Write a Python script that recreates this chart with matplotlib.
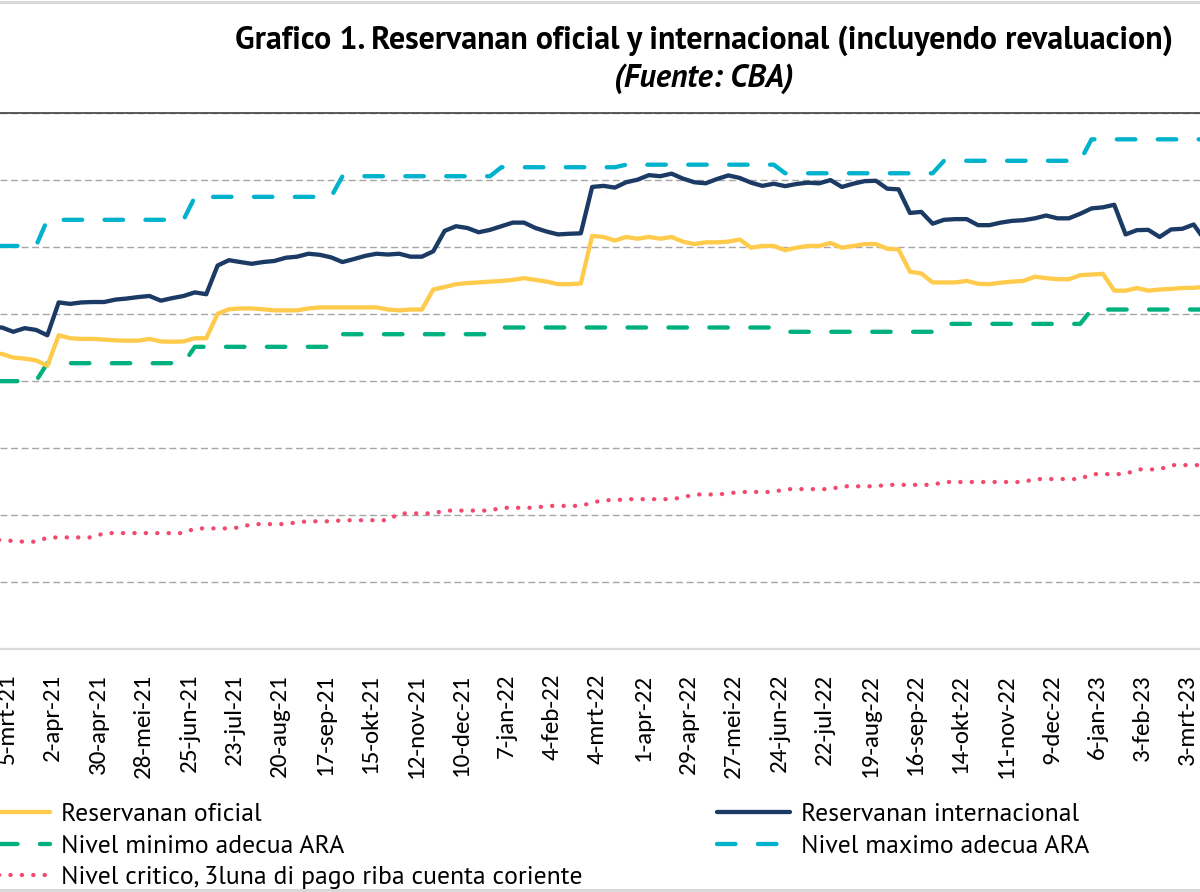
import matplotlib
matplotlib.use("Agg")
import matplotlib.pyplot as plt
import matplotlib.dates as mdates
from matplotlib.lines import Line2D
from matplotlib.transforms import ScaledTranslation
import datetime as dt

# ---------------- data (weekly, starting 19-feb-2021) ----------------
start_date = dt.date(2021, 2, 19)
n_weeks = 108

reservas_oficial = [
    2200, 2200, 2173, 2165, 2152, 2112, 2339, 2317, 2312, 2312,
    2307, 2301, 2299, 2299, 2312, 2293, 2291, 2293, 2317, 2317,
    2499, 2533, 2539, 2539, 2533, 2525, 2525, 2525, 2539, 2547,
    2547, 2547, 2547, 2547, 2547, 2531, 2525, 2531, 2531, 2680,
    2699, 2720, 2728, 2733, 2739, 2744, 2752, 2765, 2752, 2739,
    2720, 2720, 2725, 3080, 3072, 3045, 3072, 3059, 3072, 3059,
    3072, 3037, 3019, 3032, 3032, 3037, 3053, 2992, 3005, 3005,
    2973, 2992, 3005, 3005, 3027, 2992, 3005, 3019, 3019, 2984,
    2979, 2813, 2800, 2733, 2733, 2733, 2744, 2723, 2720, 2731,
    2739, 2744, 2776, 2765, 2757, 2757, 2787, 2792, 2797, 2672,
    2672, 2691, 2672, 2680, 2685, 2691, 2693, 2701,
]

reservas_internacional = [
    2397, 2397, 2365, 2392, 2379, 2339, 2584, 2573, 2584, 2587,
    2587, 2605, 2613, 2624, 2632, 2597, 2616, 2632, 2659, 2645,
    2859, 2899, 2885, 2872, 2885, 2893, 2917, 2925, 2947, 2939,
    2920, 2885, 2907, 2931, 2947, 2941, 2947, 2925, 2925, 2965,
    3117, 3152, 3139, 3107, 3125, 3152, 3179, 3179, 3139, 3112,
    3091, 3096, 3099, 3445, 3453, 3440, 3480, 3499, 3533, 3525,
    3544, 3507, 3480, 3472, 3504, 3531, 3512, 3477, 3453, 3469,
    3451, 3467, 3477, 3472, 3496, 3445, 3469, 3488, 3491, 3432,
    3427, 3251, 3259, 3171, 3200, 3205, 3205, 3160, 3160, 3179,
    3192, 3197, 3211, 3232, 3211, 3211, 3245, 3285, 3293, 3312,
    3091, 3123, 3125, 3072, 3128, 3133, 3165, 3045,
]

nivel_minimo = [
    1997, 1997, 1997, 1997, 1997, 2131, 2131, 2131, 2131, 2131,
    2131, 2131, 2131, 2131, 2131, 2131, 2131, 2131, 2253, 2253,
    2253, 2253, 2253, 2253, 2253, 2253, 2253, 2253, 2253, 2253,
    2253, 2347, 2347, 2347, 2347, 2347, 2347, 2347, 2347, 2347,
    2347, 2347, 2347, 2347, 2347, 2397, 2397, 2397, 2397, 2397,
    2397, 2397, 2397, 2397, 2397, 2397, 2397, 2397, 2397, 2397,
    2397, 2397, 2397, 2397, 2397, 2397, 2397, 2397, 2397, 2397,
    2365, 2365, 2365, 2365, 2365, 2365, 2365, 2365, 2365, 2365,
    2365, 2365, 2365, 2365, 2424, 2424, 2424, 2424, 2424, 2424,
    2424, 2424, 2424, 2424, 2424, 2424, 2424, 2531, 2531, 2531,
    2531, 2531, 2531, 2531, 2531, 2531, 2531, 2531,
]

nivel_maximo = [
    3005, 3005, 3005, 3005, 3005, 3200, 3200, 3200, 3200, 3200,
    3200, 3200, 3200, 3200, 3200, 3200, 3200, 3200, 3371, 3371,
    3371, 3371, 3371, 3371, 3371, 3371, 3371, 3371, 3371, 3371,
    3371, 3525, 3525, 3525, 3525, 3525, 3525, 3525, 3525, 3525,
    3525, 3525, 3525, 3525, 3525, 3592, 3592, 3592, 3592, 3592,
    3592, 3592, 3592, 3592, 3592, 3592, 3611, 3611, 3611, 3611,
    3611, 3611, 3611, 3611, 3611, 3611, 3611, 3611, 3611, 3611,
    3547, 3547, 3547, 3547, 3547, 3547, 3547, 3547, 3547, 3547,
    3547, 3547, 3547, 3547, 3640, 3640, 3640, 3640, 3640, 3640,
    3640, 3640, 3640, 3640, 3640, 3640, 3640, 3800, 3800, 3800,
    3800, 3800, 3800, 3800, 3800, 3800, 3800, 3800,
]

nivel_critico = [
    813, 813, 805, 800, 800, 830, 832, 832, 832, 832,
    864, 864, 864, 864, 864, 864, 864, 864, 899, 899,
    899, 899, 907, 931, 931, 931, 931, 945, 952, 952,
    952, 960, 960, 960, 960, 960, 1011, 1011, 1011, 1011,
    1032, 1032, 1032, 1032, 1032, 1053, 1053, 1053, 1053, 1067,
    1067, 1067, 1067, 1091, 1110, 1109, 1117, 1117, 1117, 1117,
    1117, 1131, 1152, 1152, 1152, 1160, 1171, 1171, 1171, 1171,
    1192, 1192, 1192, 1192, 1192, 1213, 1213, 1213, 1213, 1224,
    1224, 1224, 1224, 1224, 1245, 1245, 1245, 1245, 1245, 1245,
    1245, 1245, 1267, 1267, 1267, 1267, 1267, 1304, 1304, 1304,
    1304, 1339, 1339, 1339, 1371, 1371, 1371, 1371,
]

tick_labels = [
    "5-mrt-21", "2-apr-21", "30-apr-21", "28-mei-21", "25-jun-21", "23-jul-21",
    "20-aug-21", "17-sep-21", "15-okt-21", "12-nov-21", "10-dec-21", "7-jan-22",
    "4-feb-22", "4-mrt-22", "1-apr-22", "29-apr-22", "27-mei-22", "24-jun-22",
    "22-jul-22", "19-aug-22", "16-sep-22", "14-okt-22", "11-nov-22", "9-dec-22",
    "6-jan-23", "3-feb-23", "3-mrt-23",
]

labels = [
    "Reservanan oficial",
    "Nivel minimo adecua ARA",
    "Nivel critico, 3luna di pago riba cuenta coriente",
    "Reservanan internacional",
    "Nivel maximo adecua ARA",
]

# ---------------- figure ----------------
W, H = 1200, 892
fig = plt.figure(figsize=(W / 100, H / 100), dpi=100)

ax_top_px, ax_bot_px = 112.5, 649
ax = fig.add_axes([0, (H - ax_bot_px) / H, 1, (ax_bot_px - ax_top_px) / H])

dates = [start_date + dt.timedelta(days=7 * k) for k in range(n_weeks)]
x = mdates.date2num(dates)
tick_dates = [dt.date(2021, 3, 5) + dt.timedelta(days=28 * k) for k in range(len(tick_labels))]
tx = mdates.date2num(tick_dates)

c_yellow = "#FFCB4C"
c_navy = "#1B3A64"
c_green = "#00B07F"
c_cyan = "#00B2CC"
c_pink = "#F04B6E"

lw = 3.1
dash = (0, (4.3, 5.2))
ax.plot(x, reservas_oficial, color=c_yellow, lw=lw, solid_joinstyle="round",
        solid_capstyle="round", label=labels[0], zorder=5)
ax.plot(x, nivel_minimo, color=c_green, lw=lw, linestyle=dash,
        dash_capstyle="round", dash_joinstyle="round", label=labels[1], zorder=4)
ax.plot(x, nivel_critico, color=c_pink, lw=lw, linestyle=(0, (0.05, 2.6)),
        dash_capstyle="round", label=labels[2], zorder=4)
ax.plot(x, reservas_internacional, color=c_navy, lw=lw, solid_joinstyle="round",
        solid_capstyle="round", label=labels[3], zorder=5)
ax.plot(x, nivel_maximo, color=c_cyan, lw=lw, linestyle=dash,
        dash_capstyle="round", dash_joinstyle="round", label=labels[4], zorder=4)

# x calibration: week at 5-mrt-21 sits at pixel 13.3, 11.35 px per week
base = mdates.date2num(dt.date(2021, 3, 5))
px_per_day = 11.35 / 7
ax.set_xlim(base - 13.3 / px_per_day, base + (W - 13.3) / px_per_day)
ax.set_ylim(0, 4000)
ax.set_yticks(range(0, 4001, 500))
ax.set_xticks(tx)
ax.set_xticklabels(tick_labels, rotation=90, fontsize=18, family=["Carlito", "DejaVu Sans"],
                   color="#000000")
ax.tick_params(axis="x", length=0, pad=18)
ax.tick_params(axis="y", length=0, labelleft=False)
shift = ScaledTranslation(-6 / 100, 0, fig.dpi_scale_trans)
for lab in ax.get_xticklabels():
    lab.set_transform(lab.get_transform() + shift)

ax.yaxis.grid(True, color="#A6A6A6", linestyle=(0, (5, 2.6)), linewidth=1.0)
ax.set_axisbelow(True)
for s in ["left", "right"]:
    ax.spines[s].set_visible(False)
ax.spines["top"].set_color("#404040")
ax.spines["top"].set_linewidth(1.2)
ax.spines["bottom"].set_color("#D9D9D9")
ax.spines["bottom"].set_linewidth(1.6)

# figure border strips
fig.add_artist(Line2D([0, 1], [1 - 1.5 / H, 1 - 1.5 / H], color="#D9D9D9", lw=2.2))
fig.add_artist(Line2D([0, 1], [2 / H, 2 / H], color="#D9D9D9", lw=2.2))

# title
tfam = ["PT Sans", "DejaVu Sans"]
fig.text(704 / W, 1 - 41 / H,
         "Grafico 1. Reservanan oficial y internacional (incluyendo revaluacion)",
         ha="center", va="center", fontsize=23, fontweight="bold", family=tfam)
fig.text(704 / W, 1 - 79 / H, "(Fuente: CBA)", ha="center", va="center",
         fontsize=23, fontweight="bold", style="italic", family=tfam)

# legends
handles, labs = ax.get_legend_handles_labels()
lfam = {"family": "PT Sans", "size": 18.5}
common = dict(loc="upper left", frameon=False, prop=lfam, handlelength=2.85,
              handletextpad=0.42, labelspacing=0.34, borderpad=0, borderaxespad=0)
leg1 = fig.legend(handles[:3], labs[:3], bbox_to_anchor=(-23 / W, 1 - 803 / H), **common)
leg2 = fig.legend(handles[3:], labs[3:], bbox_to_anchor=(717 / W, 1 - 803 / H), **common)

fig.savefig("out.png", dpi=100)
